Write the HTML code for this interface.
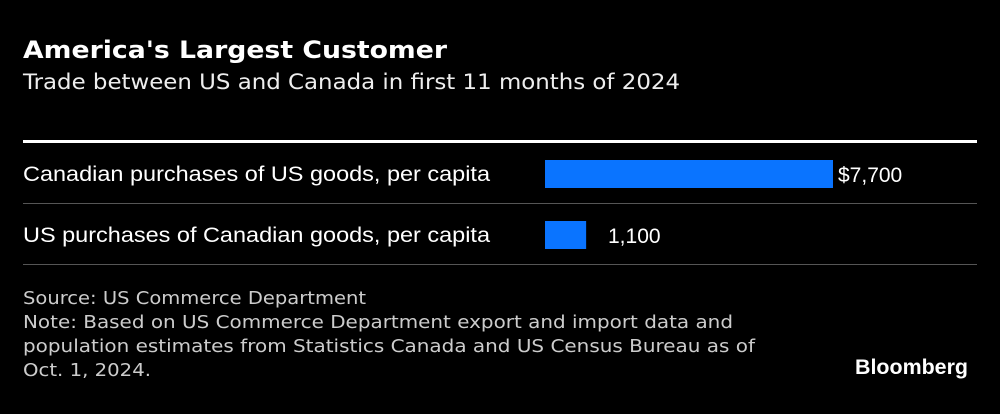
<!DOCTYPE html>
<html><head><meta charset="utf-8"><style>
body{margin:0;background:#000;width:1000px;height:414px;overflow:hidden;font-family:"DejaVu Sans",sans-serif;color:#fff;position:relative}
.a{position:absolute;white-space:nowrap}
</style></head><body>
<svg class="a" style="left:0;top:0" width="1000" height="414">
<text x="23" y="58" fill="#fff" font-size="24" font-weight="bold" font-family="DejaVu Sans" textLength="424" lengthAdjust="spacingAndGlyphs">America's Largest Customer</text>
<text x="23" y="89" fill="#eee" font-size="21" font-family="DejaVu Sans" textLength="657" lengthAdjust="spacingAndGlyphs">Trade between US and Canada in first 11 months of 2024</text>
<g fill="#ccc" font-size="17.5" font-family="DejaVu Sans">
<text x="23" y="304" textLength="343" lengthAdjust="spacingAndGlyphs">Source: US Commerce Department</text>
<text x="23" y="328" textLength="710" lengthAdjust="spacingAndGlyphs">Note: Based on US Commerce Department export and import data and</text>
<text x="23" y="352" textLength="732" lengthAdjust="spacingAndGlyphs">population estimates from Statistics Canada and US Census Bureau as of</text>
<text x="23" y="376" textLength="128" lengthAdjust="spacingAndGlyphs">Oct. 1, 2024.</text>
</g>
<text x="855" y="374" fill="#fff" font-size="21" font-weight="bold" font-family="Liberation Sans" textLength="113" lengthAdjust="spacingAndGlyphs">Bloomberg</text>
</svg>
<div class="a" style="left:23px;top:140px;width:954px;height:3px;background:#fff"></div>
<svg id="c" class="a" style="left:0;top:0" width="1000" height="414"></svg>
<script>
const categories=["Canadian purchases of US goods, per capita","US purchases of Canadian goods, per capita"];
const values=[7700,1100];
const valueLabels=["$7,700","1,100"];
const labelWidths=[467,467];
const svg=document.getElementById('c');
const NS="http://www.w3.org/2000/svg";
const x0=545, scale=288/7700;
const xs=v=>x0+v*scale;
categories.forEach((c,i)=>{
  const yTop=160+i*61;
  const t=document.createElementNS(NS,'text');
  
  
  t.setAttribute('x',23);t.setAttribute('y',yTop+21);t.setAttribute('fill','#fff');t.setAttribute('font-size','21');
  t.setAttribute('font-family','Liberation Sans');
  t.setAttribute('textLength',labelWidths[i]);t.setAttribute('lengthAdjust','spacingAndGlyphs');
  t.textContent=c;svg.appendChild(t);
  const r=document.createElementNS(NS,'rect');
  
  
  r.setAttribute('x',x0);r.setAttribute('y',yTop);r.setAttribute('width',xs(values[i])-x0);r.setAttribute('height',28);r.setAttribute('fill','#0a74ff');
  svg.appendChild(r);
  const l=document.createElementNS(NS,'text');
  
  
  l.setAttribute('x',Math.max(xs(values[i])+5,608));l.setAttribute('y',yTop+22);l.setAttribute('fill','#fff');l.setAttribute('font-size','21');
  l.setAttribute('font-family','Liberation Sans');
  l.textContent=valueLabels[i];svg.appendChild(l);
  const s=document.createElementNS(NS,'rect');
  
  
  s.setAttribute('x',23);s.setAttribute('y',yTop+43);s.setAttribute('width',954);s.setAttribute('height',1);s.setAttribute('fill','#555');
  svg.appendChild(s);
});
</script>
</body></html>
